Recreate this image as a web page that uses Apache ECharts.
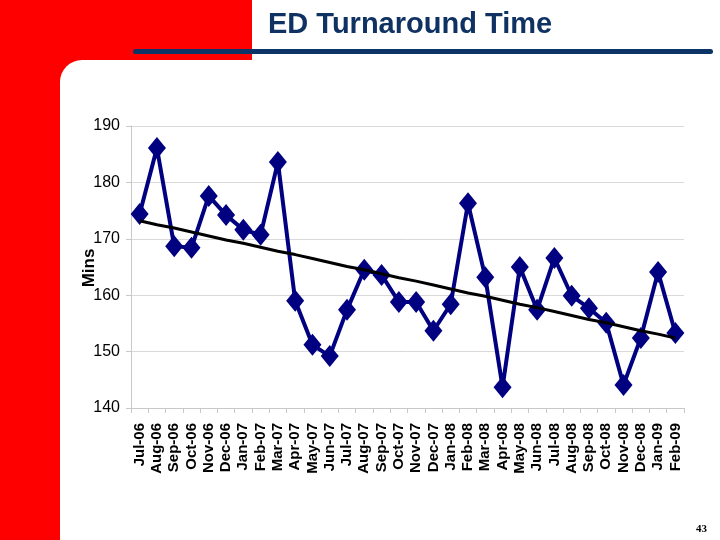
<!DOCTYPE html>
<html>
<head>
<meta charset="utf-8">
<script src="https://cdn.jsdelivr.net/npm/echarts@6/dist/echarts.min.js"></script>
<style>
html,body{margin:0;padding:0;background:#fff;}
#chart{width:720px;height:540px;}
</style>
</head>
<body>
<div id="chart"></div>
<script>
var categories = ['Jul-06','Aug-06','Sep-06','Oct-06','Nov-06','Dec-06','Jan-07','Feb-07','Mar-07','Apr-07','May-07','Jun-07','Jul-07','Aug-07','Sep-07','Oct-07','Nov-07','Dec-07','Jan-08','Feb-08','Mar-08','Apr-08','May-08','Jun-08','Jul-08','Aug-08','Sep-08','Oct-08','Nov-08','Dec-08','Jan-09','Feb-09'];
var minsValues = [174.4,186.1,168.7,168.4,177.6,174.2,171.6,170.7,183.6,159.0,151.2,149.2,157.4,164.5,163.6,158.8,158.8,153.7,158.4,176.3,163.2,143.7,165.0,157.4,166.6,159.9,157.7,155.1,144.1,152.4,164.1,153.3];
var trendValues = [173.2,172.5,171.9,171.2,170.5,169.8,169.2,168.5,167.8,167.2,166.5,165.8,165.1,164.5,163.8,163.1,162.5,161.8,161.1,160.4,159.8,159.1,158.4,157.8,157.1,156.4,155.7,155.1,154.4,153.7,153.1,152.4];
var yTicks = [140,150,160,170,180,190];
var titleText = 'ED Turnaround Time';
var yAxisTitle = 'Mins';
var pageNumber = '43';

var chart = echarts.init(document.getElementById('chart'));
var option = {
  animation: false,
  backgroundColor: '#ffffff',
  graphic: [
    {type:'rect', z:-30, silent:true, shape:{x:0,y:0,width:252,height:60}, style:{fill:'#ff0000'}},
    {type:'rect', z:-30, silent:true, shape:{x:0,y:0,width:60,height:540}, style:{fill:'#ff0000'}},
    {type:'rect', z:-30, silent:true, shape:{x:60,y:58,width:40,height:40}, style:{fill:'#ff0000'}},
    {type:'rect', z:-20, silent:true, shape:{x:60,y:60,width:660,height:480,r:[22,0,0,0]}, style:{fill:'#ffffff'}},
    {type:'rect', z:-10, silent:true, shape:{x:133,y:49,width:580,height:5,r:2.5}, style:{fill:'#0c3466'}},
    {type:'text', z:10, silent:true, left:268, top:10, style:{text:titleText, fill:'#0f3263', font:'bold 29px "Liberation Sans", Arial, sans-serif'}},
    {type:'text', z:10, silent:true, x:89, y:268, rotation:Math.PI/2, style:{text:yAxisTitle, fill:'#000', align:'center', verticalAlign:'middle', font:'bold 17px "Liberation Sans", Arial, sans-serif'}},
    {type:'text', z:10, silent:true, left:696, top:524, style:{text:pageNumber, fill:'#000', font:'bold 11px "Liberation Serif", serif'}}
  ],
  grid: {left:131, right:36, top:126, bottom:132, containLabel:false},
  xAxis: {
    type:'category',
    data: categories,
    boundaryGap: true,
    axisLine: {show:true, lineStyle:{color:'#c8c8c8', width:1}},
    axisTick: {show:true, length:5, lineStyle:{color:'#c8c8c8'}},
    axisLabel: {rotate:90, interval:0, margin:15, color:'#000', fontWeight:'bold', fontSize:15, fontFamily:'"Liberation Sans", Arial, sans-serif'},
    splitLine: {show:false}
  },
  yAxis: {
    type:'value',
    min: yTicks[0], max: yTicks[yTicks.length-1], interval: 10,
    axisLine:{show:true, lineStyle:{color:'#c8c8c8'}},
    axisTick:{show:true, length:5, lineStyle:{color:'#c8c8c8'}},
    axisLabel:{color:'#000', fontSize:16, margin:11, fontFamily:'"Liberation Sans Narrow", "Liberation Sans", Arial, sans-serif'},
    splitLine:{show:true, lineStyle:{color:'#d9d9d9', width:1}}
  },
  series: [
    {
      name:'Mins', type:'line', data:minsValues, z:3,
      symbol:'diamond', symbolSize:[18,22],
      lineStyle:{color:'#000080', width:4},
      itemStyle:{color:'#000080'}
    },
    {
      name:'Trend', type:'line', data:trendValues, z:4,
      symbol:'none',
      lineStyle:{color:'#000000', width:3}
    }
  ]
};
chart.setOption(option);
</script>
</body>
</html>
